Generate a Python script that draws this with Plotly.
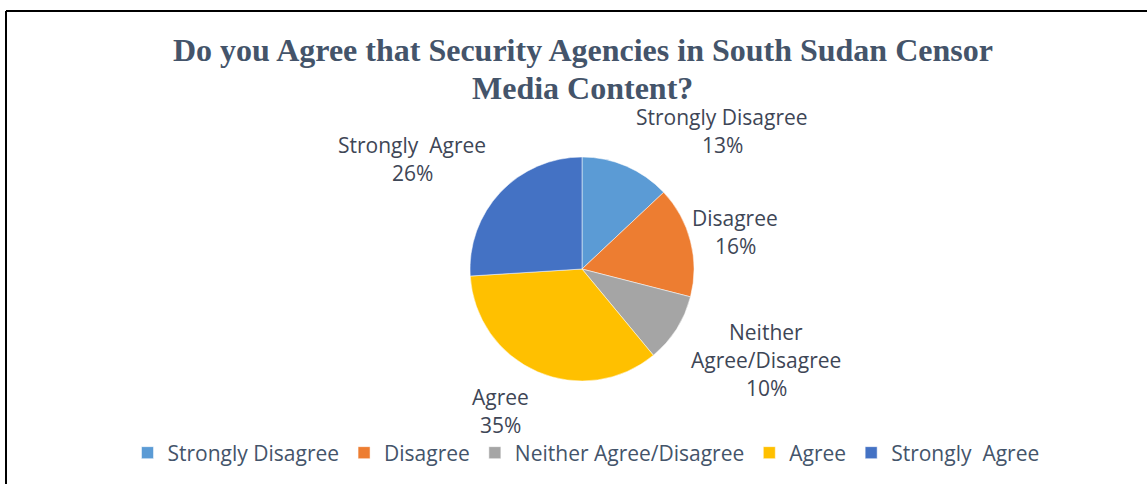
import plotly.graph_objects as go

# Survey responses
categories = ["Strongly Disagree", "Disagree", "Neither Agree/Disagree", "Agree", "Strongly  Agree"]
shares = [13, 16, 10, 35, 26]
# how each data label is broken into lines
label_names = [["Strongly Disagree"], ["Disagree"], ["Neither", "Agree/Disagree"], ["Agree"], ["Strongly  Agree"]]

colors = ["#5B9BD5", "#ED7D31", "#A5A5A5", "#FFC000", "#4472C4"]

W, H = 1147, 484


def px(x):
    return x / W


def py(y):
    return 1 - y / H


# pie placement (pixels)
CX, CY, R = 582, 269, 112

# data-label anchors: centre x and y of first line (pixels)
label_anchor = [(722, 117), (735, 218), (766, 332), (500, 397), (412, 145)]
LINE = 28

fig = go.Figure()
fig.add_trace(go.Pie(
    labels=categories,
    values=shares,
    sort=False,
    direction="clockwise",
    rotation=0,
    marker=dict(colors=colors, line=dict(color="rgba(255,255,255,0.5)", width=1)),
    textinfo="none",
    domain=dict(x=[px(CX - R), px(CX + R)], y=[py(CY + R), py(CY - R)]),
    showlegend=True,
))

annotations = []
# title
for i, line in enumerate(["Do you Agree that Security Agencies in South Sudan Censor", "Media Content?"]):
    annotations.append(dict(
        x=px(583), y=py(50 + i * 38), xref="paper", yref="paper",
        text=f"<b>{line}</b>", showarrow=False, xanchor="center", yanchor="middle",
        font=dict(family="Liberation Serif", size=32, color="#44546A"),
    ))

# data labels
for names, v, (ax, ay) in zip(label_names, shares, label_anchor):
    lines = names + [f"{v}%"]
    for j, t in enumerate(lines):
        annotations.append(dict(
            x=px(ax), y=py(ay + j * LINE), xref="paper", yref="paper",
            text=t, showarrow=False, xanchor="center", yanchor="middle",
            font=dict(family="Open Sans", size=21, color="#3E4656"),
        ))

shapes = [
    dict(type="line", xref="paper", yref="paper", x0=px(6), x1=px(1147), y0=py(11), y1=py(11),
         line=dict(color="black", width=2)),
    dict(type="line", xref="paper", yref="paper", x0=px(6), x1=px(6), y0=py(11), y1=0,
         line=dict(color="black", width=2)),
]

fig.update_layout(
    width=W, height=H,
    margin=dict(l=0, r=0, t=0, b=0),
    paper_bgcolor="white",
    plot_bgcolor="white",
    annotations=annotations,
    shapes=shapes,
    legend=dict(
        orientation="h", x=px(586), xanchor="center", y=py(453), yanchor="middle",
        font=dict(family="Open Sans", size=21, color="#44546A"),
        traceorder="normal",
    ),
)

fig.write_html("out.html")
